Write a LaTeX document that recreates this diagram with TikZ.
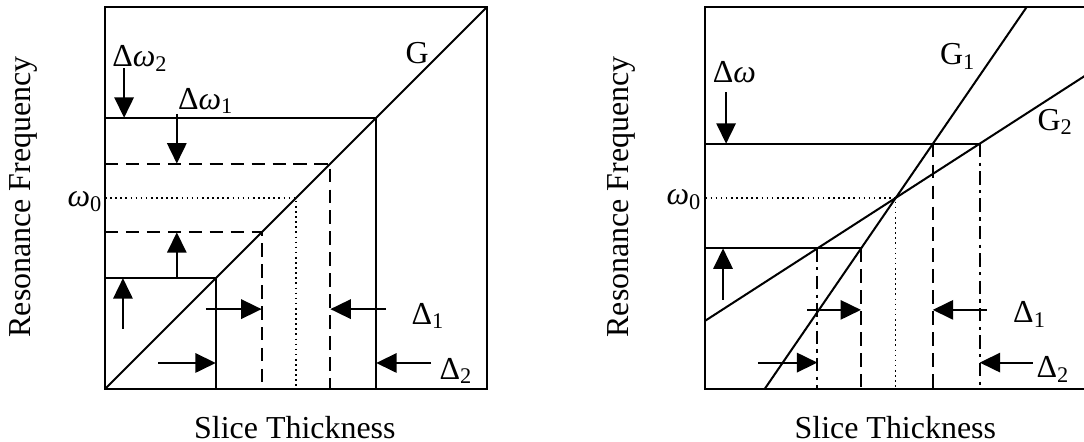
\documentclass[tikz,border=0pt]{standalone}
\usepackage{fontspec}
\setmainfont{Liberation Serif}
\usetikzlibrary{arrows.meta}
\newcommand{\om}{\textit{ω}}

\begin{document}
\begin{tikzpicture}[x=0.5cm,y=0.5cm,
  line width=0.75pt,
  arr/.style={-{Triangle[length=7.6pt,width=7.2pt]}},
  dashline/.style={dash pattern=on 5pt off 2.8pt},
  dotline/.style={line width=0.5pt,dash pattern=on 0.6pt off 1.3pt},
  dashdotline/.style={dash pattern=on 5pt off 2pt on 1.2pt off 2pt},
  lbl/.style={font=\fontsize{11.9}{14}\selectfont,inner sep=0pt}
]
  \useasboundingbox (-2.749,-1.387) rectangle (25.63,10.183);
  \clip (-2.749,-1.387) rectangle (25.63,10.183);

  % left: one gradient G
  \begin{scope}
    \coordinate (O) at (0,0);
    \coordinate (hi2) at (7.1,7.1);
    \coordinate (hi1) at (5.9,5.9);
    \coordinate (w0) at (5,5);
    \coordinate (lo1) at (4.1,4.1);
    \coordinate (lo2) at (2.9,2.9);
    \draw (O) rectangle (10,10);
    \draw (O) -- (10,10);
    \draw (O |- hi2) -- (hi2) -- (hi2 |- O);
    \draw (O |- lo2) -- (lo2) -- (lo2 |- O);
    \draw[dashline] (O |- hi1) -- (hi1) -- (hi1 |- O);
    \draw[dashline] (O |- lo1) -- (lo1) -- (lo1 |- O);
    \draw[dotline] (O |- w0) -- (w0) -- (w0 |- O);
    % arrows
    \coordinate (a1) at (0.5,8.4);
    \draw[arr] (a1) -- (a1 |- hi2);
    \coordinate (a2) at (1.88,7.2);
    \draw[arr] (a2) -- (a2 |- hi1);
    \draw[arr] (a2 |- lo2) -- (a2 |- lo1);
    \coordinate (a4) at (0.47,1.57);
    \draw[arr] (a4) -- (a4 |- lo2);
    \coordinate (a5) at (2.64,2.09);
    \draw[arr] (a5) -- (lo1 |- a5);
    \coordinate (a6) at (1.39,0.68);
    \draw[arr] (a6) -- (lo2 |- a6);
    \coordinate (a7) at (7.36,2.09);
    \draw[arr] (a7) -- (hi1 |- a7);
    \coordinate (a8) at (8.54,0.68);
    \draw[arr] (a8) -- (hi2 |- a8);
    % labels
    \node[lbl] (g) at (8.17,8.8) {G};
    \node[lbl] (dw2) at (0.92,8.66) {Δ\om\textsubscript{2}};
    \node[lbl] (dw1) at (2.64,7.54) {Δ\om\textsubscript{1}};
    \node[lbl] (w0l) at (-0.52,4.9) {\om\textsubscript{0}};
    \node[lbl] (d1) at (8.46,1.91) {Δ\textsubscript{1}};
    \node[lbl] (d2) at (9.19,0.47) {Δ\textsubscript{2}};
    \node[lbl,rotate=90] (ylab) at (-2.13,5.03) {Resonance Frequency};
    \node[lbl] (xlab) at (4.97,-1.0) {Slice Thickness};
  \end{scope}

  % right: two gradients G1 and G2
  \begin{scope}[shift={(15.72,0)}]
    \coordinate (rO) at (0,0);
    \coordinate (g1a) at (1.55,0);
    \coordinate (g1b) at (8.41,10);
    \coordinate (g2a) at (0,1.79);
    \coordinate (g2b) at (10,8.24);
    \coordinate (rw0) at (4.98,5);
    \coordinate (p1) at (5.95,6.42);
    \coordinate (q1) at (7.18,6.42);
    \coordinate (p2) at (4.07,3.68);
    \coordinate (q2) at (2.93,3.68);
    \draw (rO) rectangle (10,10);
    \draw (g1a) -- (g1b);
    \draw (g2a) -- (g2b);
    \draw (rO |- q1) -- (q1);
    \draw (rO |- p2) -- (p2);
    \draw[dotline] (rO |- rw0) -- (rw0) -- (rw0 |- rO);
    \draw[dashline] (p1) -- (p1 |- rO);
    \draw[dashline] (p2) -- (p2 |- rO);
    \draw[dashdotline] (q1) -- (q1 |- rO);
    \draw[dashdotline] (q2) -- (q2 |- rO);
    % arrows
    \coordinate (b1) at (0.54,7.77);
    \draw[arr] (b1) -- (b1 |- q1);
    \coordinate (b2) at (0.46,2.33);
    \draw[arr] (b2) -- (b2 |- p2);
    \coordinate (b3) at (2.66,2.07);
    \draw[arr] (b3) -- (p2 |- b3);
    \coordinate (b4) at (1.37,0.69);
    \draw[arr] (b4) -- (q2 |- b4);
    \coordinate (b5) at (7.36,2.07);
    \draw[arr] (b5) -- (p1 |- b5);
    \coordinate (b6) at (8.57,0.69);
    \draw[arr] (b6) -- (q1 |- b6);
    % labels
    \node[lbl] (g1) at (6.61,8.7) {G\textsubscript{1}};
    \node[lbl] (g2) at (9.16,6.99) {G\textsubscript{2}};
    \node[lbl] (dw) at (0.76,8.3) {Δ\om};
    \node[lbl] (rw0l) at (-0.56,4.95) {\om\textsubscript{0}};
    \node[lbl] (rd1) at (8.49,1.96) {Δ\textsubscript{1}};
    \node[lbl] (rd2) at (9.1,0.5) {Δ\textsubscript{2}};
    \node[lbl,rotate=90] (rylab) at (-2.21,5.03) {Resonance Frequency};
    \node[lbl] (rxlab) at (4.97,-1.0) {Slice Thickness};
  \end{scope}
\end{tikzpicture}
\end{document}
